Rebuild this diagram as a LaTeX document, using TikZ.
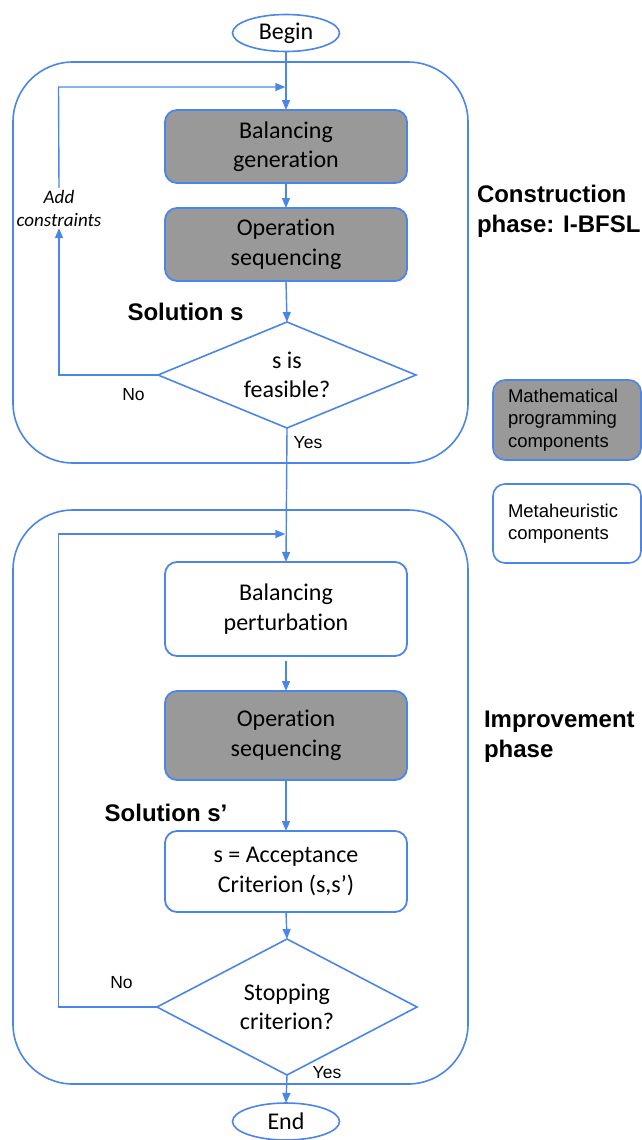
\documentclass[tikz,border=0pt]{standalone}
\usepackage{fontspec}
\setmainfont{Carlito}[Ligatures={NoCommon}]
\newfontfamily\arialf{Liberation Sans}
\usetikzlibrary{shapes.geometric,arrows.meta}
\definecolor{lblue}{HTML}{4A86E8}
\definecolor{mgray}{HTML}{999999}
\begin{document}
\begin{tikzpicture}[x=1pt,y=-1pt,
 every node/.style={inner sep=0pt, outer sep=0pt},
 boxtext/.style={font=\fontsize{24}{29.5}\selectfont, align=center},
 procbox/.style={boxtext, draw=lblue, line width=1.8pt, rounded corners=12pt, minimum width=242pt},
 mathbox/.style={procbox, fill=mgray},
 metabox/.style={procbox, fill=white},
 decision/.style={boxtext, diamond, draw=lblue, line width=1.6pt, aspect=2.4, fill=white},
 terminal/.style={boxtext, ellipse, draw=lblue, line width=1.6pt, minimum width=107pt, minimum height=37pt, fill=white},
 frame/.style={draw=lblue, line width=1.6pt, rounded corners=60pt},
 flow/.style={draw=lblue, line width=1.4pt, -{Triangle[length=10pt,width=8pt]}},
 phaselabel/.style={font=\arialf\bfseries\fontsize{24}{30}\selectfont, align=left, anchor=west},
 sollabel/.style={font=\arialf\bfseries\fontsize{24}{28}\selectfont},
 yesno/.style={font=\arialf\fontsize{17.5}{20}\selectfont},
 addlabel/.style={font=\itshape\fontsize{19}{23}\selectfont, align=center, inner sep=2pt},
 legendbox/.style={draw=lblue, line width=1.6pt, rounded corners=12pt, minimum width=148pt, font=\arialf\fontsize{18.5}{22.5}\selectfont, align=left, text width=118pt}
]
\useasboundingbox (0,0) rectangle (642,1140);

% phase frames
\node[frame, minimum width=455pt, minimum height=401pt] (phase1) at (240.5,262.5) {};
\node[frame, minimum width=455pt, minimum height=574pt] (phase2) at (240.5,797) {};

% nodes
\node[terminal] (begin) at (286,33) {Begin};
\node[mathbox, minimum height=73pt] (gen) at (286,146.5) {Balancing\\generation};
\node[mathbox, minimum height=73pt] (seq1) at (286,244.5) {Operation\\sequencing};
\node[decision, minimum width=258pt, minimum height=106pt] (feas) at (287,375) {s is\\feasible?};
\node[metabox, minimum height=94pt] (pert) at (286,609) {Balancing\\perturbation};
\node[mathbox, minimum height=89pt] (seq2) at (286,735.5) {Operation\\sequencing};
\node[metabox, minimum height=81pt] (acc) at (286,871.5) {s = Acceptance\\Criterion (s,s’)};
\node[decision, minimum width=260pt, minimum height=136pt] (stop) at (287,1007) {Stopping\\criterion?};
\node[terminal] (end) at (286,1121.5) {End};

% labels
\node[addlabel] (addc) at (59,208) {Add\\constraints};
\node[phaselabel] (lab1) at (477,211) {Construction\\phase: I-BFSL};
\node[phaselabel] (lab2) at (484,736.5) {Improvement\\phase};
\node[sollabel] (sol1) at (185.5,312) {Solution s};
\node[sollabel] (sol2) at (166,813) {Solution s’};
\node[yesno] (no1) at (133.5,395) {No};
\node[yesno] (yes1) at (308,443) {Yes};
\node[yesno] (no2) at (121.5,983) {No};
\node[yesno] (yes2) at (327,1073) {Yes};

% legend
\node[legendbox, fill=mgray, minimum height=80pt] (leg1) at (567,420) {Mathematical\\programming\\components};
\node[legendbox, fill=white, minimum height=79pt] (leg2) at (567,523.5) {Metaheuristic\\components};

% join points on the main line
\coordinate (j1) at (285.3,87);
\coordinate (j2) at (285.3,534);
\coordinate (c1) at (58.5,87);
\coordinate (c2) at (58.5,534);

% connectors
\draw[flow] (begin.south) -- (gen.north);
\draw[flow] (gen.south) -- (seq1.north);
\draw[flow] (seq1.south) -- (feas.north);
\draw[flow] (feas.west) -| (addc.south);
\draw[flow] (addc.north) -- (c1) -- (j1);
\draw[flow] (feas.south) -- (pert.north);
\draw[flow, shorten <=5pt] (pert.south) -- (seq2.north);
\draw[flow] (seq2.south) -- (acc.north);
\draw[flow] (acc.south) -- (stop.north);
\draw[flow] (stop.south) -- (end.north);
\draw[flow] (stop.west) -| (c2) -- (j2);
\end{tikzpicture}
\end{document}
